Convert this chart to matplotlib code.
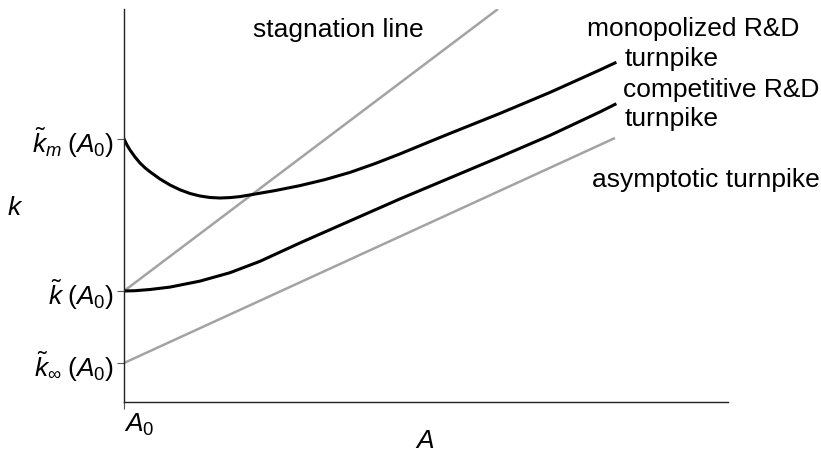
import matplotlib
matplotlib.use("Agg")
import matplotlib.pyplot as plt

plt.rcParams['font.family'] = ['Liberation Sans', 'DejaVu Sans']
plt.rcParams['mathtext.fontset'] = 'custom'
plt.rcParams['mathtext.rm'] = 'Liberation Sans'
plt.rcParams['mathtext.it'] = 'Liberation Sans:italic'
plt.rcParams['mathtext.bf'] = 'Liberation Sans:bold'

A_mono = [0, 0.03, 0.06, 0.11, 0.16, 0.21, 0.26, 0.36, 0.46, 0.56, 0.66, 0.76,
          0.86, 0.96, 1.06, 1.16, 1.29, 1.51, 1.76, 2.01, 2.26, 2.51, 2.76,
          3.01, 3.26, 3.76, 4.26, 4.76, 4.91]
k_mono = [2.63, 2.57, 2.52, 2.45, 2.39, 2.342, 2.302, 2.23, 2.17, 2.122, 2.085, 2.06,
          2.045, 2.04, 2.044, 2.054, 2.076, 2.114, 2.164, 2.224, 2.296, 2.384, 2.481,
          2.584, 2.686, 2.886, 3.096, 3.321, 3.391]

A_comp = [0, 0.11, 0.26, 0.46, 0.76, 1.06, 1.36, 1.76, 2.26, 2.76, 3.26, 3.76,
          4.26, 4.76, 4.91]
k_comp = [1.11, 1.113, 1.125, 1.149, 1.209, 1.293, 1.407, 1.591, 1.811, 2.031, 2.241,
          2.451, 2.666, 2.901, 2.976]

A_stag = [0, 3.74]
k_stag = [1.11, 3.93]

A_asym = [0, 4.91]
k_asym = [0.39, 2.64]

ytick_vals = [2.63, 1.11, 0.39]
ytick_labels = [r'$\tilde{k}_m\;(A_0)$', r'$\tilde{k}\;(A_0)$', r'$\tilde{k}_\infty\;(A_0)$']

fig = plt.figure(figsize=(8.21, 4.53), dpi=100)
ax = fig.add_axes([124 / 821, 51 / 453, 604 / 821, 393 / 453])

gray = '#a3a3a3'
ax.plot(A_stag, k_stag, color=gray, lw=1.8, solid_capstyle='butt')
ax.plot(A_asym, k_asym, color=gray, lw=1.8, solid_capstyle='butt')
ax.plot(A_mono, k_mono, color='black', lw=2.2, solid_joinstyle='round')
ax.plot(A_comp, k_comp, color='black', lw=2.2, solid_joinstyle='round')

ax.set_xlim(0, 6.04)
ax.set_ylim(0, 3.93)

for s in ['top', 'right']:
    ax.spines[s].set_visible(False)
for s in ['left', 'bottom']:
    ax.spines[s].set_linewidth(1.0)
    ax.spines[s].set_color('#222222')

fs = 19
ax.set_yticks(ytick_vals)
ax.set_yticklabels(ytick_labels, fontsize=fs)
ax.set_xticks([0])
ax.set_xticklabels([r'$A_0$'], fontsize=fs, ha='left')
ax.tick_params(axis='both', direction='out', length=5, width=0.8, pad=2, color='#555555')

ax.set_ylabel(r'$k$', fontsize=fs, rotation=0, ha='center', va='center')
ax.yaxis.set_label_coords(-0.180, 0.494)
ax.set_xlabel(r'$A$', fontsize=fs, va='top')
ax.xaxis.set_label_coords(0.498, -0.068)

txt = dict(fontsize=fs, ha='left', va='baseline', clip_on=False)
ax.text(1.29, 3.65, 'stagnation line', **txt)
ax.text(4.63, 3.66, 'monopolized R&D', **txt)
ax.text(5.01, 3.36, 'turnpike', **txt)
ax.text(4.99, 3.05, 'competitive R&D', **txt)
ax.text(5.01, 2.76, 'turnpike', **txt)
ax.text(4.68, 2.15, 'asymptotic turnpike', **txt)

fig.savefig('out.png', dpi=100)
